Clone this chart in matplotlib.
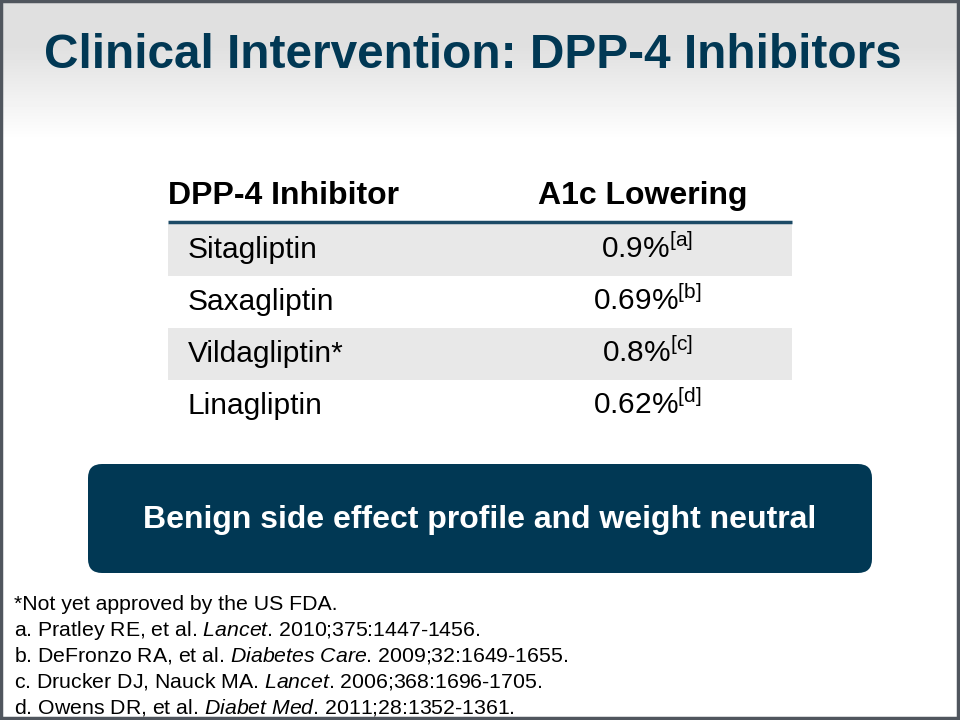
import matplotlib
matplotlib.use('Agg')
import matplotlib.pyplot as plt
from matplotlib.patches import FancyBboxPatch, Rectangle
import numpy as np

plt.rcParams['font.family'] = ['Liberation Sans', 'DejaVu Sans']
plt.rcParams['mathtext.fontset'] = 'custom'
plt.rcParams['mathtext.rm'] = 'Liberation Sans'
plt.rcParams['mathtext.it'] = 'Liberation Sans:italic'
plt.rcParams['mathtext.bf'] = 'Liberation Sans:bold'

# table content
title = 'Clinical Intervention: DPP-4 Inhibitors'
col_headers = ['DPP-4 Inhibitor', 'A1c Lowering']
drugs = ['Sitagliptin', 'Saxagliptin', 'Vildagliptin*', 'Linagliptin']
a1c_lowering = [0.9, 0.69, 0.8, 0.62]
ref_keys = ['a', 'b', 'c', 'd']
callout = 'Benign side effect profile and weight neutral'
footnotes = [
    r'*Not yet approved by the US FDA.',
    r'a. Pratley RE, et al. $\mathit{Lancet}$. 2010;375:1447-1456.',
    r'b. DeFronzo RA, et al. $\mathit{Diabetes\ Care}$. 2009;32:1649-1655.',
    r'c. Drucker DJ, Nauck MA. $\mathit{Lancet}$. 2006;368:1696-1705.',
    r'd. Owens DR, et al. $\mathit{Diabet\ Med}$. 2011;28:1352-1361.',
]

navy = '#013854'

fig = plt.figure(figsize=(9.6, 7.2), dpi=100)
ax = fig.add_axes([0, 0, 1, 1])
ax.set_xlim(0, 960)
ax.set_ylim(720, 0)
ax.axis('off')

# header gradient (grey to white)
grad = np.concatenate([np.full(45, 0.875), np.linspace(0.875, 1.0, 95)])
ax.imshow(np.tile(grad[:, None], (1, 2)), cmap='gray', vmin=0, vmax=1,
          extent=[0, 960, 140, 0], aspect='auto', zorder=0)

# slide frame
ax.add_patch(Rectangle((1, 1), 957, 717, fill=False, edgecolor='#50565e', lw=2.5, zorder=10))

ax.text(44, 56, title, fontsize=34.4, fontweight='bold', color=navy,
        ha='left', va='center')

# table
x_left, x_right = 168, 792
x_val = 643
row_top, row_h = 223, 52
ax.text(x_left, 196, col_headers[0], fontsize=23, fontweight='bold', ha='left', va='center')
ax.text(x_val, 196, col_headers[1], fontsize=23, fontweight='bold', ha='center', va='center')
ax.plot([x_left, x_right], [222, 222], color='#1c4a66', lw=2.5, solid_capstyle='butt')

for i, (drug, val, key) in enumerate(zip(drugs, a1c_lowering, ref_keys)):
    y0 = row_top + i * row_h
    if i % 2 == 0:
        ax.add_patch(Rectangle((x_left, y0 + 1), x_right - x_left, row_h, color='#e8e8e8', lw=0, zorder=1))
    yb = y0 + 35
    ax.text(188, yb, drug, fontsize=21.5, ha='left', va='baseline', zorder=3)
    ax.text(x_val + 4, yb, f'{val:g}%' + r'$^{\mathrm{[' + key + r']}}$', fontsize=21.5,
            ha='center', va='baseline', zorder=3)

# callout box
ax.add_patch(FancyBboxPatch((88 + 14, 464 + 14), 784 - 28, 109 - 28,
                            boxstyle='round,pad=14', color=navy, lw=0, zorder=2))
ax.text(480, 520, callout, fontsize=23, fontweight='bold', color='white',
        ha='center', va='center', zorder=3)

# references
for i, line in enumerate(footnotes):
    ax.text(14, 610 + i * 25.8, line, fontsize=15.3, ha='left', va='baseline', color='black')

fig.savefig('out.png', dpi=100)
